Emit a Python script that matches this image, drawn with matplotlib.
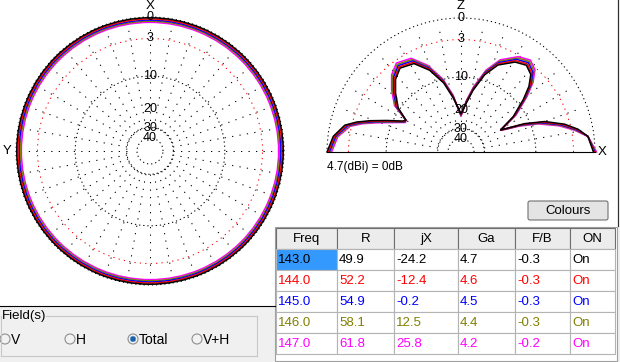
import numpy as np
import matplotlib
matplotlib.use("Agg")
import matplotlib.pyplot as plt
from matplotlib.patches import Rectangle, Circle, FancyBboxPatch

W, H = 620, 362

# --- table data ---
freqs = [143.0, 144.0, 145.0, 146.0, 147.0]
res_r = [49.9, 52.2, 54.9, 58.1, 61.8]
res_jx = [-24.2, -12.4, -0.2, 12.5, 25.8]
gain = [4.7, 4.6, 4.5, 4.4, 4.2]
fb = [-0.3, -0.3, -0.3, -0.3, -0.2]
onoff = ["On", "On", "On", "On", "On"]
colours = ["#000000", "#ff0000", "#0000ff", "#808000", "#ff00ff"]
headers = ["Freq", "R", "jX", "Ga", "F/B", "ON"]

# --- horizontal plane, dB relative to 4.7 dBi (almost omni) ---
horiz_db = [-0.1, -0.25, -0.4, -0.55, -0.7]

# --- vertical plane: angle from the +X horizon (deg), dB per frequency ---
vert_ang = [0, 7, 11, 15, 20, 24, 27, 29, 34, 40, 44, 48, 53, 59, 67, 73, 79, 84, 90,
            98, 104, 111, 118, 126, 132, 138, 145, 150, 152, 157, 161, 164, 167, 173, 180]
vert_143 = [-0.2, -0.8, -2.0, -3.8, -7.0, -11.2, -15.9, -18.6, -13.0, -8.6, -6.0, -4.3,
            -3.6, -4.2, -6.0, -8.7, -13.0, -17.3, -21.5, -15.5, -10.9, -7.3, -5.0, -4.4,
            -5.4, -7.2, -9.6, -12.8, -12.2, -8.7, -5.7, -3.6, -2.0, -0.7, 0.0]
vert_144 = [-0.1, -0.8, -2.15, -4.05, -7.35, -11.6, -16.2, -18.6, -12.75, -8.35, -5.75, -4.05,
            -3.35, -3.95, -5.75, -8.45, -12.75, -17.05, -21.8, -15.25, -10.65, -7.05, -4.75, -4.15,
            -5.15, -6.95, -9.35, -12.8, -12.4, -9.0, -6.0, -3.85, -2.2, -0.85, -0.15]
vert_145 = [0.0, -0.8, -2.3, -4.3, -7.7, -12.0, -16.5, -18.6, -12.5, -8.1, -5.5, -3.8,
            -3.1, -3.7, -5.5, -8.2, -12.5, -16.8, -22.1, -15.0, -10.4, -6.8, -4.5, -3.9,
            -4.9, -6.7, -9.1, -12.8, -12.6, -9.3, -6.3, -4.1, -2.4, -1.0, -0.3]
vert_146 = [0.1, -0.8, -2.45, -4.55, -8.05, -12.4, -16.8, -18.6, -12.25, -7.85, -5.25, -3.55,
            -2.85, -3.45, -5.25, -7.95, -12.25, -16.55, -22.4, -14.75, -10.15, -6.55, -4.25, -3.65,
            -4.65, -6.45, -8.85, -12.8, -12.8, -9.6, -6.6, -4.35, -2.6, -1.15, -0.45]
vert_147 = [0.2, -0.8, -2.6, -4.8, -8.4, -12.8, -17.1, -18.6, -12.0, -7.6, -5.0, -3.3,
            -2.6, -3.2, -5.0, -7.7, -12.0, -16.3, -22.7, -14.5, -9.9, -6.3, -4.0, -3.4,
            -4.4, -6.2, -8.6, -12.8, -13.0, -9.9, -6.9, -4.6, -2.8, -1.3, -0.6]
vert_db = [vert_143, vert_144, vert_145, vert_146, vert_147]

ring_db = [-10, -30, -40]
ring_labels = [(0, "0"), (-3, "3"), (-10, "10"), (-20, "20"), (-30, "30"), (-40, "40")]

narrow = ["Liberation Sans Narrow", "Liberation Sans", "DejaVu Sans"]
ui = ["Liberation Sans", "DejaVu Sans"]


# ARRL log scale used by MMANA: r = 0.89 ** (-dB / 2)
def arrl(db):
    return 0.89 ** (-np.asarray(db, dtype=float) / 2)


def arrl_inv(r):
    r = np.clip(np.asarray(r, dtype=float), 1e-12, None)
    return -2 * np.log(r) / np.log(0.89)


fig = plt.figure(figsize=(W / 100, H / 100), dpi=100, facecolor="#f0f0f0")

# background / widgets in pixel coordinates
bg = fig.add_axes([0, 0, 1, 1])
bg.set_xlim(0, W)
bg.set_ylim(H, 0)
bg.axis("off")
bg.add_patch(Rectangle((0, 0), 617, 305.5, facecolor="white", edgecolor="none"))
bg.plot([0, 275], [305.5, 305.5], color="black", lw=0.8)
bg.plot([617.5, 617.5], [0, 226], color="#303030", lw=0.8)


def polar_axes(rect, half):
    ax = fig.add_axes(rect, projection="polar")
    ax.set_rscale("function", functions=(arrl, arrl_inv))
    if half:
        ax.set_thetamin(0)
        ax.set_thetamax(180)
    ax.set_rlim(-200, 0)
    ax.grid(False)
    ax.set_xticks([])
    ax.set_yticks([])
    for sp in ax.spines.values():
        sp.set_visible(False)
    ax.patch.set_visible(False)
    return ax


def draw_grid(ax, half):
    dot = (0, (1.2, 2.8))
    ax.axhline(0, color="black", lw=0.75, ls=dot, clip_on=False)
    ax.axhline(-3, color="red", lw=0.75, ls=(0, (1.2, 4.0)), clip_on=False)
    for d in ring_db:
        ax.axhline(d, color="black", lw=0.75, ls=dot, clip_on=False)
    stop = 181 if half else 360
    for a in range(0, stop, 10):
        ax.plot(np.radians([a, a]), [-30, -0.8], color="black", lw=0.75,
                ls=(0, (1.2, 6.0)), clip_on=False)
    for d, txt in ring_labels:
        ax.text(np.pi / 2, d, txt, ha="center", va="center", fontsize=9,
                family=narrow, clip_on=False)


# left: horizontal pattern
axh = polar_axes([16 / W, (H - 285) / H, 268 / W, 268 / H], False)
draw_grid(axh, False)
for d, c in reversed(list(zip(horiz_db, colours))):
    axh.axhline(d, color=c, lw=1.1, clip_on=False)
axh.text(np.pi / 2, 1.35, "X", ha="center", va="center", fontsize=9.5, family=narrow, clip_on=False)
axh.text(np.pi, 1.05, "Y", ha="center", va="center", fontsize=9.5, family=narrow, clip_on=False)

# right: vertical pattern (square box, wedge sits in its middle)
axv = polar_axes([327 / W, (H - 219) / H, 268 / W, 268 / H], True)
draw_grid(axv, True)
for vals, c in reversed(list(zip(vert_db, colours))):
    axv.plot(np.radians(vert_ang), vals, color=c, lw=1.1, clip_on=False)
axv.text(np.pi / 2, 1.47, "Z", ha="center", va="center", fontsize=9.5, family=narrow, clip_on=False)
axv.text(0, 0.87, "X", ha="center", va="center", fontsize=9.5, family=narrow, clip_on=False)

bg.text(327, 167, "4.7(dBi) = 0dB", ha="left", va="center", fontsize=8.5, family=narrow)

# Colours button
bg.add_patch(FancyBboxPatch((528, 201), 80, 19, boxstyle="round,pad=0,rounding_size=2",
                            facecolor="#e4e4e4", edgecolor="#707070", lw=0.8))
bg.text(568, 211, "Colours", ha="center", va="center", fontsize=9.5, family=ui)

# result table
col_x = [276, 337, 394, 458, 515, 570, 615]
row_y = [228, 249, 270, 291, 312, 333, 354]
bg.add_patch(Rectangle((274.5, 226.5), 342, 134, facecolor="white", edgecolor="#a0a0a0", lw=0.8))
for j, name in enumerate(headers):
    x0, x1 = col_x[j], col_x[j + 1]
    bg.add_patch(Rectangle((x0, row_y[0]), x1 - x0, row_y[1] - row_y[0],
                           facecolor="#ececec", edgecolor="#6e6e6e", lw=0.8))
    bg.text((x0 + x1) / 2, (row_y[0] + row_y[1]) / 2 + 0.5, name, ha="center", va="center",
            fontsize=9.5, family=ui)
cols = [["%.1f" % v for v in freqs], ["%.1f" % v for v in res_r], ["%.1f" % v for v in res_jx],
        ["%.1f" % v for v in gain], ["%.1f" % v for v in fb], onoff]
for i in range(len(freqs)):
    y0, y1 = row_y[i + 1], row_y[i + 2]
    for j in range(len(headers)):
        x0, x1 = col_x[j], col_x[j + 1]
        face = "#3399ff" if (i == 0 and j == 0) else "white"
        bg.add_patch(Rectangle((x0, y0), x1 - x0, y1 - y0, facecolor=face,
                               edgecolor="#b4b4b4", lw=0.8))
        bg.text(x0 + 2, (y0 + y1) / 2 + 0.5, cols[j][i], ha="left", va="center",
                fontsize=9.5, family=ui, color=colours[i])

# Field(s) group box
gb = "#c8c8c8"
bg.plot([0.5, 0.5], [316, 356], color=gb, lw=0.8)
bg.plot([46, 257], [315.5, 315.5], color=gb, lw=0.8)
bg.plot([257, 257], [315.5, 356], color=gb, lw=0.8)
bg.plot([0.5, 257], [356, 356], color=gb, lw=0.8)
bg.text(1.5, 316, "Field(s)", ha="left", va="center", fontsize=9.5, family=ui)
radio_x = [5, 70, 133, 197]
radio_txt = ["V", "H", "Total", "V+H"]
for k, (rx, t) in enumerate(zip(radio_x, radio_txt)):
    bg.add_patch(Circle((rx, 339), 5, facecolor="#f2f2f2", edgecolor="#8e8f8f", lw=0.8))
    if t == "Total":
        bg.add_patch(Circle((rx, 339), 2.7, facecolor="#1b5fa5", edgecolor="#4a90d0", lw=0.5))
    bg.text(rx + 6, 339.5, t, ha="left", va="center", fontsize=10, family=ui)

fig.savefig("out.png", dpi=100, facecolor=fig.get_facecolor())
